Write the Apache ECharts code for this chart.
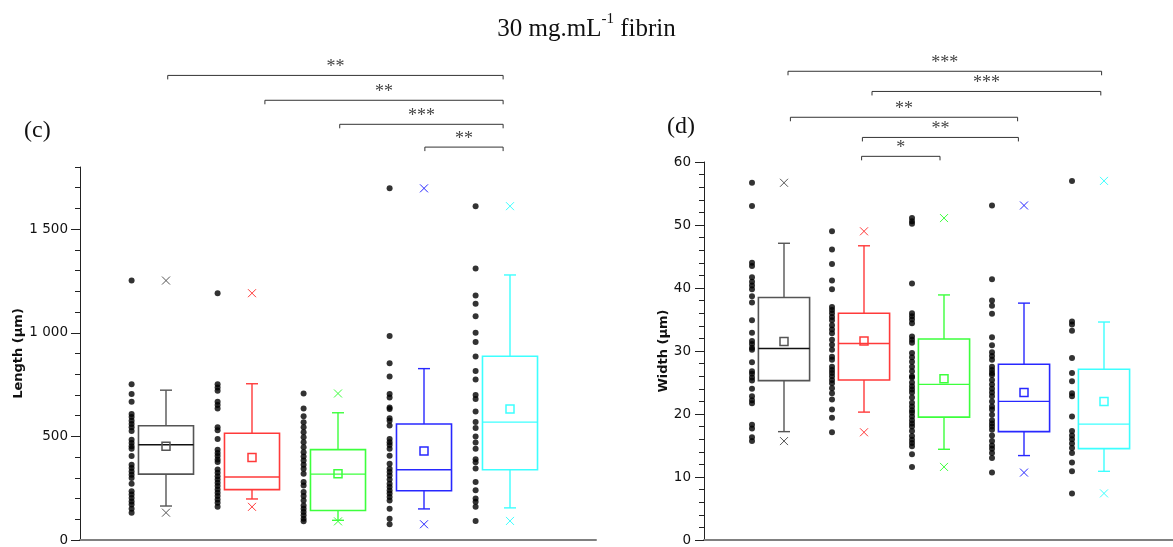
<!DOCTYPE html>
<html>
<head>
<meta charset="utf-8">
<script src="https://cdn.jsdelivr.net/npm/echarts@6/dist/echarts.min.js"></script>
<style>
  html, body { margin: 0; padding: 0; background: #ffffff; }
  #chart { width: 1173px; height: 547px; }
</style>
</head>
<body>
<div id="chart"></div>
<script>
// ---- groups ----
const groupPositions = [1, 2, 3, 4, 5];
const groupColors = ['#555555', '#ff3a3a', '#3dff3d', '#2828ff', '#3dffff'];
const medianColors = ['#111111', '#ff3a3a', '#3dff3d', '#2828ff', '#3dffff'];

// ---- (c) Length (µm) ----
const lengthQ1 = [318, 243, 142, 238, 339];
const lengthMedian = [460, 304, 318, 339, 569];
const lengthQ3 = [551, 515, 436, 560, 887];
const lengthWhiskerLow = [164, 198, 95, 150, 155];
const lengthWhiskerHigh = [723, 754, 614, 827, 1279];
const lengthMean = [453, 398, 320, 430, 632];
const lengthMin = [132, 160, 90, 76, 92];
const lengthMax = [1252, 1191, 707, 1697, 1611];

const lengthPoints1 = [1252, 752, 704, 667, 608, 593, 576, 560, 544, 526, 484, 468, 453, 440, 405,
  363, 347, 331, 315, 299, 272, 235, 219, 203, 186, 171, 151, 132];
const lengthPoints2 = [1191, 752, 736, 720, 667, 651, 635, 544, 530, 488, 436, 420, 405, 388, 376,
  340, 324, 308, 292, 276, 260, 244, 228, 212, 196, 180, 160];
const lengthPoints3 = [707, 635, 597, 568, 544, 520, 496, 472, 448, 424, 403, 384, 363, 344, 320,
  280, 263, 232, 212, 191, 167, 151, 135, 119, 103, 90];
const lengthPoints4 = [1697, 984, 853, 789, 704, 688, 640, 632, 587, 576, 552, 488, 472, 459, 440,
  407, 368, 344, 328, 311, 292, 272, 256, 239, 224, 208, 191, 151, 103, 76];
const lengthPoints5 = [1611, 1310, 1180, 1140, 1080, 1000, 955, 885, 815, 775, 700, 680, 620, 570,
  540, 500, 470, 440, 390, 375, 345, 280, 240, 200, 185, 160, 92];
const lengthPoints = [lengthPoints1, lengthPoints2, lengthPoints3, lengthPoints4, lengthPoints5];

// ---- (d) Width (µm) ----
const widthQ1 = [25.3, 25.4, 19.5, 17.2, 14.5];
const widthMedian = [30.4, 31.2, 24.7, 22.0, 18.4];
const widthQ3 = [38.5, 36.0, 31.9, 27.9, 27.1];
const widthWhiskerLow = [17.2, 20.3, 14.4, 13.4, 10.9];
const widthWhiskerHigh = [47.1, 46.7, 38.9, 37.6, 34.6];
const widthMean = [31.5, 31.6, 25.6, 23.4, 22.0];
const widthMin = [15.7, 17.1, 11.6, 10.7, 7.4];
const widthMax = [56.7, 49.0, 51.1, 53.1, 57.0];

const widthPoints1 = [56.7, 53.0, 44.0, 43.5, 41.7, 41.0, 40.4, 39.8, 38.7, 37.7, 34.9, 32.9, 31.6,
  31.1, 30.5, 30.2, 28.2, 26.8, 26.4, 25.8, 25.3, 24.0, 22.8, 22.2, 21.7, 18.3, 17.7, 16.3, 15.7];
const widthPoints2 = [49.0, 46.1, 43.8, 41.2, 39.8, 37.0, 36.5, 36.0, 35.4, 34.9, 34.1, 33.4, 32.8,
  31.8, 31.0, 30.2, 29.1, 28.6, 27.5, 27.0, 26.5, 26.0, 25.4, 24.9, 24.1, 23.3, 22.3, 20.7, 19.4, 17.1];
const widthPoints3 = [51.1, 50.6, 50.2, 40.7, 36.0, 35.5, 35.0, 34.4, 32.3, 31.8, 31.3, 29.7, 29.0,
  28.3, 27.5, 26.8, 26.0, 25.8, 25.0, 24.4, 23.9, 23.4, 22.6, 21.8, 21.2, 20.6, 20.2, 19.6, 19.0,
  18.5, 18.0, 17.3, 16.5, 15.9, 15.4, 14.9, 13.6, 11.6];
const widthPoints4 = [53.1, 41.4, 38.0, 37.2, 35.9, 32.2, 30.9, 29.8, 29.2, 28.6, 27.5, 27.0, 26.5,
  26.2, 25.4, 24.7, 24.0, 23.4, 22.8, 22.0, 21.2, 20.7, 19.9, 19.0, 18.5, 18.0, 17.5, 16.6, 15.7,
  15.0, 14.5, 13.8, 13.0, 10.7];
const widthPoints5 = [57.0, 34.7, 34.2, 33.2, 28.9, 26.5, 25.2, 23.3, 22.8, 19.6, 17.3, 16.6, 16.0,
  15.3, 14.6, 13.8, 12.3, 10.9, 7.4];
const widthPoints = [widthPoints1, widthPoints2, widthPoints3, widthPoints4, widthPoints5];

// ---- significance brackets: [from x, to x, level] in axis units ----
const lengthBrackets = [[1.02, 4.92, 2242], [2.15, 4.92, 2122], [3.02, 4.92, 2006], [4.01, 4.92, 1896]];
const lengthBracketLabels = ['**', '**', '***', '**'];
const widthBrackets = [[1.05, 4.97, 74.4], [2.1, 4.96, 71.2], [1.08, 3.92, 67.1], [1.98, 3.93, 63.9], [1.97, 2.95, 60.9]];
const widthBracketLabels = ['***', '***', '**', '**', '*'];

const lengthTickLabels = [0, 500, 1000, 1500];

// ---- helpers ----
const POINT_OFFSET = -0.4;
const BOX_HALF = 0.32;

function boxData(q1, med, q3, wlo, whi, mean, mn, mx) {
  return groupPositions.map((g, i) => [g, q1[i], med[i], q3[i], wlo[i], whi[i], mean[i], mn[i], mx[i]]);
}

function pointData(lists) {
  const out = [];
  lists.forEach((vals, i) => vals.forEach(v => out.push([groupPositions[i] + POINT_OFFSET, v])));
  return out;
}

function renderBox(params, api) {
  const i = params.dataIndex;
  const color = groupColors[i];
  const x = api.value(0);
  const Y = v => api.coord([x, v])[1];
  const cx = api.coord([x, 0])[0];
  const xl = api.coord([x - BOX_HALF, 0])[0];
  const xr = api.coord([x + BOX_HALF, 0])[0];
  const yq1 = Y(api.value(1)), ymed = Y(api.value(2)), yq3 = Y(api.value(3));
  const ywlo = Y(api.value(4)), ywhi = Y(api.value(5)), ymean = Y(api.value(6));
  const ymin = Y(api.value(7)), ymax = Y(api.value(8));
  const cap = 6, sq = 4, cr = 4;
  const stroke = { stroke: color, lineWidth: 1.4, fill: null };
  const line = (x1, y1, x2, y2, st) => ({ type: 'line', shape: { x1, y1, x2, y2 }, style: st || stroke });
  const cross = (yy) => [
    line(cx - cr, yy - cr, cx + cr, yy + cr, { stroke: color, lineWidth: 1 }),
    line(cx - cr, yy + cr, cx + cr, yy - cr, { stroke: color, lineWidth: 1 })
  ];
  return {
    type: 'group',
    children: [
      { type: 'rect', shape: { x: xl, y: yq3, width: xr - xl, height: yq1 - yq3 },
        style: { fill: 'none', stroke: color, lineWidth: 1.6 } },
      line(xl, ymed, xr, ymed, { stroke: medianColors[i], lineWidth: 1.4 }),
      line(cx, yq3, cx, ywhi), line(cx - cap, ywhi, cx + cap, ywhi),
      line(cx, yq1, cx, ywlo), line(cx - cap, ywlo, cx + cap, ywlo),
      { type: 'rect', shape: { x: cx - sq, y: ymean - sq, width: 2 * sq, height: 2 * sq },
        style: { fill: 'none', stroke: color, lineWidth: 1.5 } },
      ...cross(ymin), ...cross(ymax)
    ]
  };
}

function bracketRenderer(labels) {
  return function (params, api) {
    const y = api.value(2);
    const p1 = api.coord([api.value(0), y]);
    const p2 = api.coord([api.value(1), y]);
    return {
      type: 'group',
      children: [
        { type: 'polyline',
          shape: { points: [[p1[0], p1[1] + 4], [p1[0], p1[1]], [p2[0], p2[1]], [p2[0], p2[1] + 4]] },
          style: { fill: null, stroke: '#333333', lineWidth: 1 } },
        { type: 'text', x: (p1[0] + p2[0]) / 2, y: p1[1] + 1,
          style: { text: labels[params.dataIndex], fill: '#444444', font: '18px "Liberation Serif"',
                   align: 'center', verticalAlign: 'bottom' } }
      ]
    };
  };
}

const labelStyle = { color: '#111111', fontFamily: 'DejaVu Sans', fontSize: 13.5 };
const nameStyle = { color: '#111111', fontFamily: 'DejaVu Sans', fontSize: 13, fontWeight: 'bold' };

const xAxisBase = {
  type: 'value', min: 0,
  axisLine: { show: true, lineStyle: { color: '#808080', width: 2 } },
  axisTick: { show: false }, axisLabel: { show: false }, splitLine: { show: false }
};

const chart = echarts.init(document.getElementById('chart'), null, { renderer: 'canvas' });

chart.setOption({
  animation: false,
  backgroundColor: '#ffffff',
  title: {
    text: '{a|30 mg.mL}{s|-1}{a| fibrin}',
    left: 'center', top: 7,
    textStyle: {
      fontWeight: 'normal',
      rich: {
        a: { fontFamily: 'Liberation Serif', fontSize: 25, fontWeight: 'normal', color: '#111', lineHeight: 30, verticalAlign: 'bottom' },
        s: { fontFamily: 'Liberation Serif', fontSize: 15, fontWeight: 'normal', color: '#111', lineHeight: 30, verticalAlign: 'top' }
      }
    }
  },
  graphic: [
    { type: 'text', left: 24, top: 119, style: { text: '(c)', font: '24px "Liberation Serif"', fill: '#111' } },
    { type: 'text', left: 667, top: 115, style: { text: '(d)', font: '24px "Liberation Serif"', fill: '#111' } }
  ],
  grid: [
    { left: 80, top: 167, width: 516, height: 374.5 },
    { left: 704, top: 162, width: 469, height: 379 }
  ],
  xAxis: [
    Object.assign({ gridIndex: 0, max: 6 }, xAxisBase),
    Object.assign({ gridIndex: 1, max: 5.8625 }, xAxisBase)
  ],
  yAxis: [
    { // minor ticks of the length axis
      gridIndex: 0, type: 'value', min: 0, max: 1800, interval: 100, position: 'left',
      axisLine: { show: true, lineStyle: { color: '#222', width: 1 } },
      axisTick: { show: true, length: 5, lineStyle: { color: '#222' } },
      axisLabel: { show: false }, splitLine: { show: false }
    },
    { // major ticks and labels of the length axis
      gridIndex: 0, type: 'value', min: 0, max: 1800, interval: 500, position: 'left',
      name: 'Length (μm)', nameLocation: 'middle', nameGap: 51, nameTextStyle: nameStyle,
      axisLine: { show: false },
      axisTick: { show: true, length: 9, customValues: lengthTickLabels, lineStyle: { color: '#222' } },
      axisLabel: Object.assign({ margin: 12, customValues: lengthTickLabels,
        formatter: v => (v >= 1000 ? Math.floor(v / 1000) + ' ' + String(v % 1000).padStart(3, '0') : String(v)) }, labelStyle),
      splitLine: { show: false }
    },
    {
      gridIndex: 1, type: 'value', min: 0, max: 60, interval: 10, position: 'left',
      name: 'Width (μm)', nameLocation: 'middle', nameGap: 32, nameTextStyle: nameStyle,
      axisLine: { show: true, lineStyle: { color: '#222', width: 1 } },
      axisTick: { show: true, length: 9, lineStyle: { color: '#222' } },
      minorTick: { show: true, splitNumber: 5, length: 5, lineStyle: { color: '#222' } },
      axisLabel: Object.assign({ margin: 13 }, labelStyle),
      splitLine: { show: false }
    }
  ],
  series: [
    { type: 'scatter', xAxisIndex: 0, yAxisIndex: 0, symbol: 'circle', symbolSize: 6,
      itemStyle: { color: '#000' }, data: pointData(lengthPoints), z: 3 },
    { type: 'custom', xAxisIndex: 0, yAxisIndex: 0, renderItem: renderBox,
      encode: { x: 0, y: [1, 2, 3, 4, 5, 6, 7, 8] },
      data: boxData(lengthQ1, lengthMedian, lengthQ3, lengthWhiskerLow, lengthWhiskerHigh, lengthMean, lengthMin, lengthMax) },
    { type: 'custom', xAxisIndex: 0, yAxisIndex: 0, clip: false, renderItem: bracketRenderer(lengthBracketLabels),
      encode: { x: [0, 1], y: 2 }, data: lengthBrackets },

    { type: 'scatter', xAxisIndex: 1, yAxisIndex: 2, symbol: 'circle', symbolSize: 6,
      itemStyle: { color: '#000' }, data: pointData(widthPoints), z: 3 },
    { type: 'custom', xAxisIndex: 1, yAxisIndex: 2, renderItem: renderBox,
      encode: { x: 0, y: [1, 2, 3, 4, 5, 6, 7, 8] },
      data: boxData(widthQ1, widthMedian, widthQ3, widthWhiskerLow, widthWhiskerHigh, widthMean, widthMin, widthMax) },
    { type: 'custom', xAxisIndex: 1, yAxisIndex: 2, clip: false, renderItem: bracketRenderer(widthBracketLabels),
      encode: { x: [0, 1], y: 2 }, data: widthBrackets }
  ]
});
</script>
</body>
</html>
